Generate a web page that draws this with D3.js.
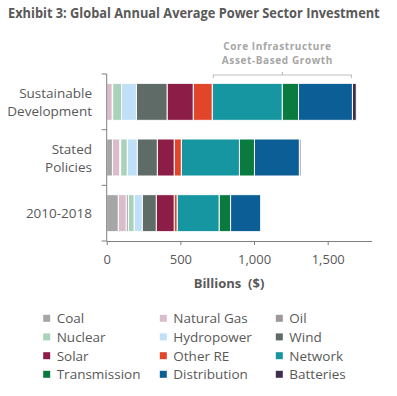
<!DOCTYPE html>
<html>
<head>
<meta charset="utf-8">
<script src="https://cdn.jsdelivr.net/npm/d3@7"></script>
<style>
  body { margin: 0; background: #fff; }
  text { font-family: "Open Sans", sans-serif; fill: #595959; }
  .axis path, .axis line { stroke: #7f7f7f; }
</style>
</head>
<body>
<script>
const categories = ["Sustainable Development", "Stated Policies", "2010-2018"];
const series = ["Coal", "Natural Gas", "Oil", "Nuclear", "Hydropower", "Wind",
                "Solar", "Other RE", "Network", "Transmission", "Distribution", "Batteries"];
const colors = ["#a6a6a6", "#dcbccb", "#9e979c", "#a9d2bb", "#bfe0f6", "#5f6b66",
                "#8c1d46", "#e1452a", "#1596a1", "#0b7a3f", "#0c5e96", "#3f2d50"];
// values in billions ($), one array per category, in series order
const sustainableDev = [0, 38, 3, 60, 101, 209, 177, 129, 475, 110, 366, 26];
const statedPolicies = [39, 50, 6, 45, 68, 136, 115, 48, 394, 102, 305, 10];
const hist2010 = [79, 54, 14, 40, 55, 95, 122, 20, 285, 77, 204, 0];
const xTicks = [0, 500, 1000, 1500];
const bracketSeries = ["Network", "Distribution"];

const width = 397, height = 396;

function init() {
    let svg = d3.select("body").append("svg")
        .attr("width", width)
        .attr("height", height);

    let rows = [sustainableDev, statedPolicies, hist2010];
    let table = categories.map(function(c, i) {
        let d = {cat: c};
        series.forEach(function(s, j) { d[s] = rows[i][j]; });
        return d;
    });

    let stack = d3.stack().keys(series)(table);

    let x = d3.scaleLinear().domain([0, 1800]).range([106.7, 106.7 + 1800 * 0.14733]);
    let y = d3.scaleBand().domain(categories).range([74, 241])
        .paddingInner(0.335).paddingOuter(0.1675);
    let color = d3.scaleOrdinal().domain(series).range(colors);

    // title, squeezed horizontally to fit the narrow original face
    let title = svg.append("text")
        .attr("x", 0).attr("y", 0)
        .style("font-size", "14.5px")
        .style("font-weight", "bold")
        .text("Exhibit 3: Global Annual Average Power Sector Investment");
    let tw = title.node().getComputedTextLength();
    title.attr("transform", "translate(8,18) scale(" + (372 / tw) + ",1)");

    // bars
    svg.append("g").selectAll("g")
        .data(stack)
        .enter().append("g")
        .attr("fill", function(d) { return color(d.key); })
        .selectAll("rect")
        .data(function(d) { return d; })
        .enter().append("rect")
        .filter(function(d) { return d[1] - d[0] > 0; })
        .attr("x", function(d) { return x(d[0]); })
        .attr("y", function(d) { return y(d.data.cat); })
        .attr("width", function(d) { return x(d[1]) - x(d[0]); })
        .attr("height", y.bandwidth())
        .attr("stroke", "#fff")
        .attr("stroke-width", 1);

    // x axis
    let xAxis = d3.axisBottom(x).tickValues(xTicks).tickSize(4)
        .tickFormat(d3.format(","));
    let gx = svg.append("g")
        .attr("class", "axis")
        .attr("transform", "translate(0,241)")
        .call(xAxis);
    gx.select(".domain").attr("d", "M" + x(0) + ",0.5H" + x(1800));
    gx.selectAll(".tick text").attr("y", 14).style("font-size", "13px").style("fill", "#595959");

    svg.append("text")
        .attr("x", 229).attr("y", 288)
        .attr("text-anchor", "middle")
        .style("font-size", "13px")
        .style("font-weight", "bold")
        .attr("xml:space", "preserve")
        .text("Billions  ($)");

    // y axis with ticks at band boundaries
    let gy = svg.append("g").attr("class", "axis");
    gy.append("line")
        .attr("x1", x(0)).attr("x2", x(0))
        .attr("y1", y.range()[0]).attr("y2", y.range()[1]);
    d3.range(categories.length + 1).forEach(function(i) {
        let yy = y.range()[0] + i * y.step();
        gy.append("line")
            .attr("x1", x(0) - 5).attr("x2", x(0))
            .attr("y1", yy).attr("y2", yy);
    });

    let labels = [["Sustainable", "Development"], ["Stated", "Policies"], ["2010-2018"]];
    categories.forEach(function(c, i) {
        let cy = y(c) + y.bandwidth() / 2;
        let lines = labels[i];
        lines.forEach(function(l, k) {
            svg.append("text")
                .attr("x", 92)
                .attr("y", cy + (k - (lines.length - 1) / 2) * 18 + 5)
                .attr("text-anchor", "end")
                .style("font-size", "13.5px")
                .text(l);
        });
    });

    // bracket over core infrastructure
    let bStart = x(stack[series.indexOf(bracketSeries[0])][0][0]) + 1;
    let bEnd = x(stack[series.indexOf(bracketSeries[1])][0][1]) - 1;
    let bMid = (bStart + bEnd) / 2;
    svg.append("path")
        .attr("d", "M" + bStart + ",78V75H" + bEnd + "V78M" + bMid + ",75V72")
        .attr("fill", "none")
        .attr("stroke", "#bfbfbf")
        .attr("stroke-width", 1.2);
    ["Core Infrastructure", "Asset-Based Growth"].forEach(function(t, k) {
        svg.append("text")
            .attr("x", bMid - 5)
            .attr("y", 50 + k * 14)
            .attr("text-anchor", "middle")
            .style("font-size", "10px")
            .style("font-weight", "bold")
            .style("letter-spacing", "0.6px")
            .style("fill", "#a6a6a6")
            .text(t);
    });

    // legend
    let legX = [46.7, 163.3, 279.3];
    let legY = [318.3, 336.9, 355.7, 374.3];
    series.forEach(function(s, i) {
        let col = i % 3, row = Math.floor(i / 3);
        svg.append("rect")
            .attr("x", legX[col] - 3.5).attr("y", legY[row] - 3.5)
            .attr("width", 7).attr("height", 7)
            .attr("fill", color(s));
        svg.append("text")
            .attr("x", legX[col] + 10).attr("y", legY[row] + 5)
            .style("font-size", "13.5px")
            .text(s);
    });
}

window.onload = init;
</script>
</body>
</html>
